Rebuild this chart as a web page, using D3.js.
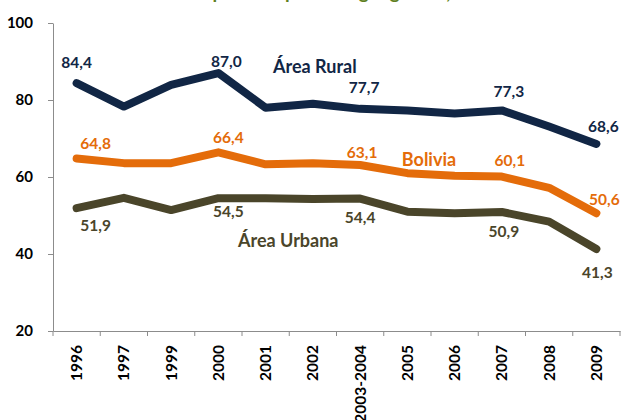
<!DOCTYPE html>
<html>
<head>
<meta charset="utf-8">
<script src="https://cdn.jsdelivr.net/npm/d3@7"></script>
<style>
  body { margin: 0; background: #fff; }
  svg { display: block; font-family: Lato, "Open Sans", sans-serif; font-weight: bold; }
</style>
</head>
<body>
<div id="chart"></div>
<script>
const years = ["1996", "1997", "1999", "2000", "2001", "2002", "2003-2004", "2005", "2006", "2007", "2008", "2009"];
const rural = [84.4, 78.3, 83.9, 87.0, 78.0, 79.0, 77.7, 77.3, 76.5, 77.3, 73.1, 68.6];
const bolivia = [64.8, 63.6, 63.6, 66.4, 63.3, 63.6, 63.1, 61.0, 60.3, 60.1, 57.2, 50.6];
const urbana = [51.9, 54.6, 51.4, 54.5, 54.5, 54.3, 54.4, 51.0, 50.6, 50.9, 48.4, 41.3];
const yTicks = [20, 40, 60, 80, 100];

// which points carry a value label
const ruralLabels = [0, 3, 6, 9, 11];
const boliviaLabels = [0, 3, 6, 9, 11];
const urbanaLabels = [0, 3, 6, 9, 11];

const width = 621, height = 420;
const margin = {top: 23, right: 1, bottom: 89, left: 53};

const svg = d3.select("#chart").append("svg")
    .attr("width", width)
    .attr("height", height);

// title, cut off at the top of the picture
svg.append("text")
    .attr("x", 30)
    .attr("y", -1.5)
    .attr("fill", "#5f7f22")
    .style("font-size", "19px")
    .text("Bolivia: Incidencia de pobreza por área geográfica, 1996 - 2009");

const x = d3.scaleBand()
    .domain(years)
    .range([margin.left, width - margin.right]);

const y = d3.scaleLinear()
    .domain([20, 100])
    .range([height - margin.bottom, margin.top]);

const cx = d => x(d) + x.bandwidth() / 2;

// y axis
const yAxis = svg.append("g")
    .attr("transform", `translate(${margin.left},0)`)
    .call(d3.axisLeft(y).tickValues(yTicks).tickSize(5).tickSizeOuter(0).tickPadding(15));
yAxis.select(".domain").attr("stroke", "#8c8c8c");
yAxis.selectAll(".tick line").attr("stroke", "#8c8c8c");
yAxis.selectAll(".tick text")
    .attr("fill", "#000")
    .style("font-size", "15px")
    .style("font-family", "Lato, sans-serif")
    .style("font-weight", "bold");

// x axis: labels at band centres, ticks between bands
const xAxis = svg.append("g")
    .attr("transform", `translate(0,${height - margin.bottom})`)
    .call(d3.axisBottom(x).tickSize(0).tickSizeOuter(0));
xAxis.select(".domain").attr("stroke", "#8c8c8c");
xAxis.selectAll(".tick text")
    .attr("fill", "#000")
    .attr("transform", "rotate(-90)")
    .attr("text-anchor", "end")
    .attr("x", -14)
    .attr("y", 0)
    .attr("dy", "0.35em")
    .style("font-size", "15.5px")
    .style("font-family", "Lato, sans-serif")
    .style("font-weight", "bold");

const edges = years.map(d => x(d)).concat([x.range()[1]]);
xAxis.selectAll(".edge")
    .data(edges)
    .enter().append("line")
    .attr("class", "edge")
    .attr("x1", d => d).attr("x2", d => d)
    .attr("y1", 0).attr("y2", 5)
    .attr("stroke", "#8c8c8c");

const series = [
  {name: "Área Rural", values: rural, color: "#112645", labels: ruralLabels,
   nudge: [[0, -15], [8, -6], [4, -16], [7, -13], [7, -12]]},
  {name: "Bolivia", values: bolivia, color: "#e46c0a", labels: boliviaLabels,
   nudge: [[19, -10], [10, -9], [2, -7], [8, -11], [8, -8]]},
  {name: "Área Urbana", values: urbana, color: "#4a452a", labels: urbanaLabels,
   nudge: [[19, 23], [10, 19], [0, 24], [2, 25], [1, 29]]}
];

const line = d3.line()
    .x((d, i) => cx(years[i]))
    .y(d => y(d));

const fmt = v => d3.format(".1f")(v).replace(".", ",");

series.forEach(s => {
  svg.append("path")
      .datum(s.values)
      .attr("fill", "none")
      .attr("stroke", s.color)
      .attr("stroke-width", 8)
      .attr("stroke-linejoin", "round")
      .attr("stroke-linecap", "round")
      .attr("d", line);

  svg.append("g").selectAll("text")
      .data(s.labels)
      .enter().append("text")
      .attr("x", (d, k) => cx(years[d]) + s.nudge[k][0])
      .attr("y", (d, k) => y(s.values[d]) + s.nudge[k][1])
      .attr("text-anchor", "middle")
      .attr("fill", s.color)
      .style("font-size", "15.5px")
      .text(d => fmt(s.values[d]));
});

// series names
svg.append("text").attr("x", 273).attr("y", 73)
    .attr("fill", "#112645").style("font-size", "18px").text("Área Rural");
svg.append("text").attr("x", 429).attr("y", 166).attr("text-anchor", "middle")
    .attr("fill", "#e46c0a").style("font-size", "18px").text("Bolivia");
svg.append("text").attr("x", 238).attr("y", 247)
    .attr("fill", "#4a452a").style("font-size", "18px").text("Área Urbana");
</script>
</body>
</html>
